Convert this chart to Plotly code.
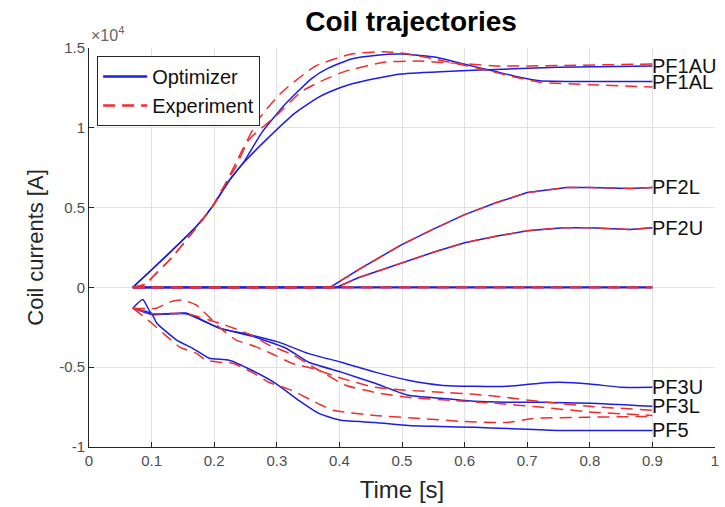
import plotly.graph_objects as go

# ---------------- data ----------------
coil_labels = ["PF1AU", "PF1AL", "PF2L", "PF2U", "PF3U", "PF3L", "PF5"]

# optimizer (blue solid)
t_pf1al_opt = [0.07, 0.117, 0.171, 0.197, 0.224, 0.248, 0.276, 0.314, 0.356, 0.383, 0.419, 0.46, 0.498, 0.552, 0.605, 0.641, 0.684, 0.72, 0.8, 0.9]
v_pf1al_opt = [0, 1730, 3800, 5060, 6700, 7900, 9700, 11500, 13100, 13750, 14310, 14550, 14620, 14430, 13930, 13610, 13200, 12950, 12900, 12900]

t_pf1au_opt = [0.07, 0.117, 0.171, 0.197, 0.224, 0.248, 0.287, 0.33, 0.367, 0.383, 0.419, 0.46, 0.498, 0.578, 0.65, 0.75, 0.9]
v_pf1au_opt = [0, 1730, 3800, 5060, 6700, 7850, 9400, 10950, 11920, 12230, 12740, 13100, 13370, 13550, 13650, 13800, 13870]

t_pf2l = [0.07, 0.385, 0.43, 0.499, 0.55, 0.6, 0.65, 0.7, 0.763, 0.8, 0.864, 0.9]
v_pf2l = [0, 0, 1100, 2670, 3650, 4560, 5300, 5940, 6260, 6260, 6200, 6260]

t_pf2u = [0.07, 0.395, 0.43, 0.499, 0.55, 0.6, 0.65, 0.7, 0.758, 0.8, 0.864, 0.9]
v_pf2u = [0, 0, 600, 1540, 2200, 2800, 3200, 3550, 3740, 3740, 3620, 3740]

t_zero = [0.07, 0.9]
v_zero = [0, 0]

t_pf3u_opt = [0.07, 0.086, 0.1, 0.155, 0.187, 0.208, 0.26, 0.303, 0.351, 0.403, 0.457, 0.51, 0.562, 0.616, 0.668, 0.72, 0.752, 0.8, 0.85, 0.9]
v_pf3u_opt = [-1300, -760, -1640, -1610, -2170, -2550, -2990, -3430, -4150, -4690, -5310, -5820, -6130, -6200, -6200, -6000, -5950, -6050, -6260, -6260]

t_pf3l_opt = [0.07, 0.1, 0.155, 0.208, 0.26, 0.314, 0.351, 0.403, 0.457, 0.51, 0.562, 0.616, 0.668, 0.72, 0.8, 0.9]
v_pf3l_opt = [-1300, -1700, -1650, -2550, -3050, -3800, -4690, -5310, -6010, -6760, -6950, -7140, -7200, -7200, -7260, -7450]

t_pf5_opt = [0.07, 0.1, 0.108, 0.14, 0.165, 0.192, 0.224, 0.26, 0.298, 0.335, 0.367, 0.403, 0.457, 0.51, 0.562, 0.616, 0.668, 0.75, 0.9]
v_pf5_opt = [-1300, -1640, -2230, -3300, -3800, -4440, -4560, -5190, -6010, -7080, -7890, -8330, -8460, -8650, -8710, -8770, -8840, -8960, -8960]

# experiment (red dashed)
t_pf1al_exp = [0.07, 0.09, 0.108, 0.129, 0.16, 0.197, 0.219, 0.235, 0.271, 0.308, 0.362, 0.419, 0.473, 0.51, 0.552, 0.605, 0.641, 0.673, 0.72, 0.8, 0.9]
v_pf1al_exp = [0, 200, 910, 1730, 3180, 5060, 6570, 7830, 10540, 12230, 13870, 14620, 14770, 14620, 14310, 13870, 13550, 13240, 12860, 12700, 12550]

t_pf1au_exp = [0.07, 0.09, 0.108, 0.129, 0.16, 0.197, 0.219, 0.235, 0.256, 0.298, 0.34, 0.378, 0.41, 0.473, 0.525, 0.605, 0.657, 0.75, 0.9]
v_pf1au_exp = [0, 200, 910, 1730, 3180, 5060, 6570, 7600, 9280, 10720, 12290, 13050, 13550, 14120, 14180, 14000, 13870, 13900, 14000]

t_pf3u_exp = [0.07, 0.108, 0.129, 0.149, 0.171, 0.192, 0.208, 0.235, 0.26, 0.287, 0.324, 0.356, 0.403, 0.457, 0.51, 0.562, 0.616, 0.668, 0.72, 0.8, 0.9]
v_pf3u_exp = [-1300, -1300, -910, -790, -1100, -1860, -2490, -3300, -3620, -4060, -4750, -5060, -5690, -6260, -6450, -6570, -6700, -6900, -7150, -7450, -7700]

t_pf3l_exp = [0.07, 0.1, 0.155, 0.213, 0.26, 0.287, 0.324, 0.367, 0.41, 0.46, 0.51, 0.58, 0.65, 0.72, 0.8, 0.9]
v_pf3l_exp = [-1300, -1640, -1650, -2300, -3000, -3600, -4200, -5190, -6130, -6600, -6890, -7080, -7260, -7500, -7800, -8020]

t_pf5_exp = [0.07, 0.1, 0.118, 0.145, 0.171, 0.187, 0.208, 0.229, 0.26, 0.287, 0.324, 0.356, 0.39, 0.457, 0.53, 0.597, 0.668, 0.71, 0.79, 0.9]
v_pf5_exp = [-1300, -2230, -2860, -3740, -4120, -4560, -4690, -4750, -5310, -5940, -6450, -7080, -7700, -8020, -8210, -8400, -8460, -8210, -8140, -8080]

x_ticks = [0, 0.1, 0.2, 0.3, 0.4, 0.5, 0.6, 0.7, 0.8, 0.9, 1]
x_tick_text = ["0", "0.1", "0.2", "0.3", "0.4", "0.5", "0.6", "0.7", "0.8", "0.9", "1"]
y_ticks = [-10000, -5000, 0, 5000, 10000, 15000]
y_tick_text = ["-1", "-0.5", "0", "0.5", "1", "1.5"]

# ---------------- figure ----------------
BLUE = "rgb(30,30,225)"
RED = "rgb(238,45,45)"
FONT = "Liberation Sans, Arial, sans-serif"

fig = go.Figure()

opt_series = [
    (t_zero, v_zero, "linear"),
    (t_pf2l, v_pf2l, "linear"), (t_pf2u, v_pf2u, "linear"),
    (t_pf1al_opt, v_pf1al_opt, "spline"), (t_pf1au_opt, v_pf1au_opt, "spline"),
    (t_pf3u_opt, v_pf3u_opt, "spline"), (t_pf3l_opt, v_pf3l_opt, "spline"), (t_pf5_opt, v_pf5_opt, "spline"),
]
exp_series = [
    (t_zero, v_zero, "linear"),
    (t_pf2l, v_pf2l, "linear"), (t_pf2u, v_pf2u, "linear"),
    (t_pf1al_exp, v_pf1al_exp, "spline"), (t_pf1au_exp, v_pf1au_exp, "spline"),
    (t_pf3u_exp, v_pf3u_exp, "spline"), (t_pf3l_exp, v_pf3l_exp, "spline"), (t_pf5_exp, v_pf5_exp, "spline"),
]

for i, (tt, vv, shp) in enumerate(opt_series):
    ln = dict(color=BLUE, width=2.4 if i == 0 else 1.5, shape=shp)
    if shp == "spline":
        ln["smoothing"] = 0.5
    fig.add_trace(go.Scatter(x=tt, y=vv, mode="lines", name="Optimizer", line=ln,
                             showlegend=(i == 0), legendgroup="opt"))
for i, (tt, vv, shp) in enumerate(exp_series):
    ln = dict(color=RED, width=2.4 if i == 0 else 1.5, dash="12px,7px", shape=shp)
    if shp == "spline":
        ln["smoothing"] = 0.5
    fig.add_trace(go.Scatter(x=tt, y=vv, mode="lines", name="Experiment", line=ln,
                             showlegend=(i == 0), legendgroup="exp"))

label_ends = [v_pf1au_opt[-1], v_pf1al_opt[-1], v_pf2l[-1], v_pf2u[-1],
              v_pf3u_opt[-1], v_pf3l_opt[-1], v_pf5_opt[-1]]
for lab, yv in zip(coil_labels, label_ends):
    fig.add_annotation(x=0.9, y=yv, text=lab, showarrow=False, xanchor="left",
                       yanchor="middle", xshift=-2,
                       font=dict(family=FONT, size=20, color="#111111"))

fig.add_annotation(xref="paper", yref="paper", x=0, y=1.0, yshift=2,
                   text="×10<sup>4</sup>", showarrow=False, xanchor="left", yanchor="bottom",
                   font=dict(family=FONT, size=16, color="#666666"))

fig.update_layout(
    width=725, height=507,
    margin=dict(l=89, r=6, t=48, b=60),
    paper_bgcolor="white", plot_bgcolor="white",
    title=dict(text="<b>Coil trajectories</b>", x=411 / 725, xanchor="center",
               y=1 - 21 / 507, yanchor="middle",
               font=dict(family=FONT, size=28, color="black")),
    legend=dict(x=0.013, y=0.98, xanchor="left", yanchor="top",
                bgcolor="white", bordercolor="#262626", borderwidth=1, itemwidth=44,
                font=dict(family=FONT, size=20, color="#111111"), tracegroupgap=0),
    font=dict(family=FONT),
)
fig.update_xaxes(range=[0, 1], tickvals=x_ticks, ticktext=x_tick_text,
                 showgrid=True, gridcolor="#e2e2e2", zeroline=False,
                 showline=True, linecolor="#262626", linewidth=1,
                 ticks="inside", ticklen=5, tickcolor="#262626",
                 tickfont=dict(family=FONT, size=15, color="#4d4d4d"),
                 title=dict(text="Time [s]", font=dict(family=FONT, size=24, color="#262626"), standoff=13))
fig.update_yaxes(range=[-10000, 15000], tickvals=y_ticks, ticktext=y_tick_text,
                 showgrid=True, gridcolor="#e2e2e2", zeroline=False,
                 showline=True, linecolor="#262626", linewidth=1,
                 ticks="inside", ticklen=5, tickcolor="#262626",
                 tickfont=dict(family=FONT, size=15, color="#4d4d4d"),
                 title=dict(text="Coil currents [A]", font=dict(family=FONT, size=22, color="#262626"), standoff=9))

fig.write_html("out.html")
